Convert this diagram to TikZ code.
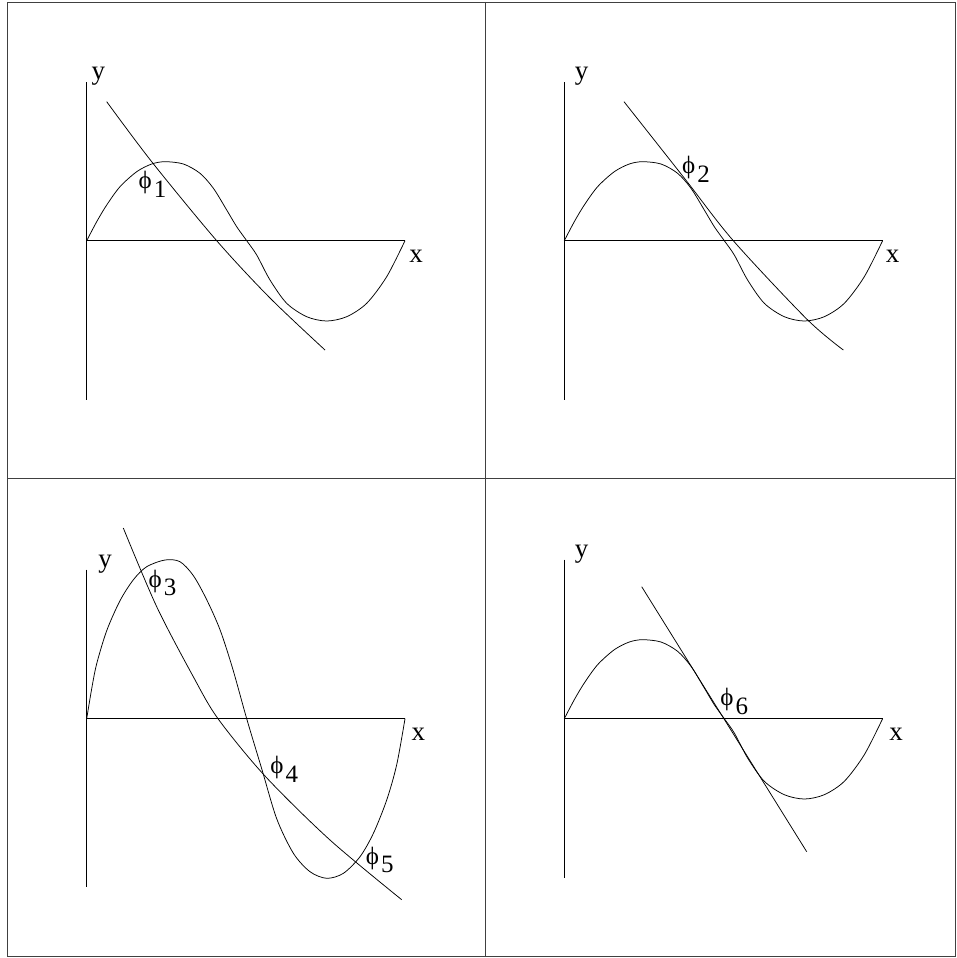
\documentclass[tikz,border=0pt]{standalone}
\usepackage{fontspec}
\setmainfont{Liberation Serif}
\newcommand\wavea{\draw[curve] plot[smooth,tension=0.5] coordinates {(0,0) (10,-19) (20,-35.7) (33.3,-54) (50,-69) (65,-76.7) (78.3,-79) (96.7,-76.7) (113.3,-67.4) (126.7,-52.4) (140,-30.7) (150,-14) (160,0) (170,14.3) (183.3,39.3) (200,62.6) (220,76) (240,80.3) (260,76) (280,62.6) (300,36) (318.3,0)};}
\newcommand\waveb{\draw[curve] plot[smooth,tension=0.5] coordinates {(0,0) (5,-30) (10,-55) (20,-88) (33.3,-118) (46.7,-139) (60,-152) (78.3,-158.7) (93.3,-157) (106.7,-143) (120,-119) (133.3,-89) (146,-50) (160,0) (175,50) (190,100) (206.7,134.6) (223.3,153) (240,159.6) (256.7,154.6) (273.3,138) (286.7,114.6) (300,81.3) (310,46) (318.3,0)};}
\newcommand\phisub[1]{ϕ\kern2pt\raisebox{-0.35em}{#1}}
\begin{document}
\begin{tikzpicture}[x=1pt,y=-1pt,
  frame/.style={line width=0.9pt, draw=black!75},
  axis/.style={line width=1pt},
  curve/.style={line width=0.75pt},
  lbl/.style={font=\fontsize{27}{27}\selectfont, inner sep=0pt},
  phil/.style={font=\fontsize{25}{25}\selectfont, inner sep=0pt}]
\useasboundingbox (0,0) rectangle (956,958);
% frame
\coordinate (tl) at (7,2); \coordinate (br) at (955,956);
\coordinate (mt) at (485,2); \coordinate (mb) at (485,956);
\coordinate (ml) at (7,478); \coordinate (mr) at (955,478);
\draw[frame] (tl) rectangle (br);
\draw[frame] (mt) -- (mb);
\draw[frame] (ml) -- (mr);
% ---------- panel 1
\coordinate (o1) at (86.7,240.7);
\coordinate (yt1) at (86.7,82); \coordinate (yb1) at (86.7,400);
\coordinate (xe1) at (405,240.7);
\draw[axis] (yt1) -- (yb1);
\draw[axis] (o1) -- (xe1);
\begin{scope}[shift={(o1)}]\wavea\end{scope}
\coordinate (l1a) at (106.7,101.7); \coordinate (l1b) at (325,350);
\draw[curve] plot[smooth,tension=0.5] coordinates {(l1a) (151.7,161.7) (216.7,240.7) (270,298) (l1b)};
\node[lbl] (y1) at (98.3,76.7) {y};
\node[lbl] (x1) at (416,256.7) {x};
\node[phil] (p1) at (152.5,184) {\phisub{1}};
% ---------- panel 2
\coordinate (o2) at (564.3,240.7);
\coordinate (yt2) at (564.3,82); \coordinate (yb2) at (564.3,400);
\coordinate (xe2) at (883.3,240.7);
\draw[axis] (yt2) -- (yb2);
\draw[axis] (o2) -- (xe2);
\begin{scope}[shift={(o2)}]\wavea\end{scope}
\coordinate (l2a) at (624,101.7); \coordinate (l2b) at (843.3,350);
\draw[curve] plot[smooth,tension=0.5] coordinates {(l2a) (685,179) (733.3,240.7) (806.7,319) (l2b)};
\node[lbl] (y2) at (581.7,76.7) {y};
\node[lbl] (x2) at (892.7,256.7) {x};
\node[phil] (p2) at (696,169.5) {\phisub{2}};
% ---------- panel 3
\coordinate (o3) at (86.7,718.7);
\coordinate (yt3) at (86.7,569.7); \coordinate (yb3) at (86.7,887.3);
\coordinate (xe3) at (405,718.7);
\draw[axis] (yt3) -- (yb3);
\draw[axis] (o3) -- (xe3);
\begin{scope}[shift={(o3)}]\waveb\end{scope}
\coordinate (l3a) at (123.3,528); \coordinate (l3b) at (401.7,899.7);
\draw[curve] plot[smooth,tension=0.5] coordinates {(l3a) (156.7,606.7) (193.3,676.7) (218,718.7) (265,776) (330,840) (l3b)};
\node[lbl] (y3) at (105,564.7) {y};
\node[lbl] (x3) at (418.3,734.7) {x};
\node[phil] (p3) at (162.5,583) {\phisub{3}};
\node[phil] (p4) at (284.2,769.2) {\phisub{4}};
\node[phil] (p5) at (379.7,860) {\phisub{5}};
% ---------- panel 4
\coordinate (o4) at (564.3,718.7);
\coordinate (yt4) at (564.3,559.7); \coordinate (yb4) at (564.3,878);
\coordinate (xe4) at (883.3,718.7);
\draw[axis] (yt4) -- (yb4);
\draw[axis] (o4) -- (xe4);
\begin{scope}[shift={(o4)}]\wavea\end{scope}
\coordinate (l4a) at (641.7,586.7); \coordinate (l4b) at (806.7,851.7);
\draw[curve] (l4a) -- (l4b);
\node[lbl] (y4) at (581.7,554.7) {y};
\node[lbl] (x4) at (896,734.7) {x};
\node[phil] (p6) at (734.2,701.7) {\phisub{6}};
\end{tikzpicture}
\end{document}
